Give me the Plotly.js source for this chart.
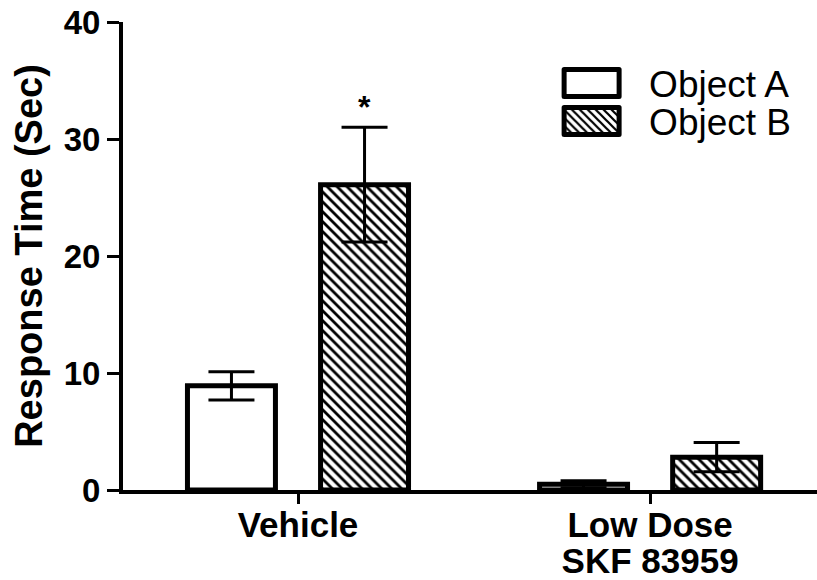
<!DOCTYPE html>
<html>
<head>
<meta charset="utf-8">
<script src="https://cdn.plot.ly/plotly-3.0.1.min.js"></script>
<style>
  html, body { margin: 0; padding: 0; background: #fff; }
  #chart { width: 817px; height: 580px; }
</style>
</head>
<body>
<div id="chart"></div>
<script>
// ---- data ----
const categories = ['Vehicle', 'Low Dose<br>SKF 83959'];
const seriesNames = ['Object A', 'Object B'];
const objectA = [8.9, 0.5];
const objectAErr = [1.2, 0.3];
const objectB = [26.1, 2.8];
const objectBErr = [4.9, 1.25];
const yTickVals = [0, 10, 20, 30, 40];
const starLabel = '*';

const FONT = 'Liberation Sans, Arial, Helvetica, sans-serif';

const traceA = {
  type: 'bar', name: seriesNames[0], x: categories, y: objectA,
  marker: { color: '#ffffff', line: { color: '#000000', width: 5 } },
  error_y: { type: 'data', array: objectAErr, visible: true, color: '#000000', thickness: 3, width: 23 }
};
const traceB = {
  type: 'bar', name: seriesNames[1], x: categories, y: objectB,
  marker: {
    color: '#ffffff',
    line: { color: '#000000', width: 5 },
    pattern: { shape: '\\', size: 7, solidity: 0.4, fgcolor: '#000000', bgcolor: '#ffffff' }
  },
  error_y: { type: 'data', array: objectBErr, visible: true, color: '#000000', thickness: 3, width: 23 }
};

const layout = {
  width: 817, height: 580,
  margin: { l: 123, r: 0, t: 22, b: 90 },
  paper_bgcolor: '#ffffff', plot_bgcolor: '#ffffff',
  font: { family: FONT, color: '#000000' },
  barmode: 'group', bargap: 0.244, bargroupgap: 0.339,
  showlegend: true,
  legend: {
    x: 0.614, y: 0.935, xanchor: 'left', yanchor: 'top',
    font: { family: FONT, size: 37, color: '#000000' },
    bgcolor: 'rgba(0,0,0,0)', itemwidth: 90, tracegroupgap: 0
  },
  xaxis: {
    type: 'category', range: [-0.497, 1.474],
    showline: true, linewidth: 4, linecolor: '#000000',
    ticks: 'outside', ticklen: 10, tickwidth: 3, tickcolor: '#000000',
    ticklabelstandoff: -9,
    showgrid: false, zeroline: false,
    tickfont: { family: FONT, size: 35, color: '#000000', weight: 'bold' }
  },
  yaxis: {
    range: [0, 40], tickvals: yTickVals,
    showline: true, linewidth: 4, linecolor: '#000000',
    ticks: 'outside', ticklen: 12, tickwidth: 3, tickcolor: '#000000',
    showgrid: false, zeroline: false,
    tickfont: { family: FONT, size: 33, color: '#000000', weight: 'bold' },
    title: { text: 'Response Time (Sec)', font: { family: FONT, size: 38, color: '#000000', weight: 'bold' }, standoff: 10 }
  },
  annotations: [{
    x: categories[0], y: objectB[0] + objectBErr[0], xref: 'x', yref: 'y',
    xshift: 66, yshift: 0, yanchor: 'bottom', showarrow: false,
    text: starLabel, font: { family: FONT, size: 32, color: '#000000', weight: 'bold' }
  }]
};

Plotly.newPlot('chart', [traceA, traceB], layout, { displayModeBar: false, staticPlot: true }).then(function (gd) {
  // enlarge legend swatches like the reference
  const items = gd.querySelectorAll('.legend .traces');
  let firstY = null;
  items.forEach(function (g, i) {
    g.querySelectorAll('.legendpoints path').forEach(function (p) {
      p.setAttribute('d', 'M-35,-13.5H20V13.5H-35Z');
      p.style.strokeWidth = '5px';
      p.style.strokeLinejoin = 'round';
    });
    const m = /translate\(([-\d.]+),\s*([-\d.]+)\)/.exec(g.getAttribute('transform') || '');
    if (m) {
      const tx = parseFloat(m[1]), ty = parseFloat(m[2]);
      if (firstY === null) firstY = ty;
      g.setAttribute('transform', 'translate(' + tx + ',' + (firstY + i * 38) + ')');
    }
  });
  // tighter line spacing for the two-line category label
  gd.querySelectorAll('.xtick text').forEach(function (txt) {
    txt.querySelectorAll('tspan.line').forEach(function (t, i) {
      t.setAttribute('dy', (i * 1.03) + 'em');
    });
  });
});
</script>
</body>
</html>
